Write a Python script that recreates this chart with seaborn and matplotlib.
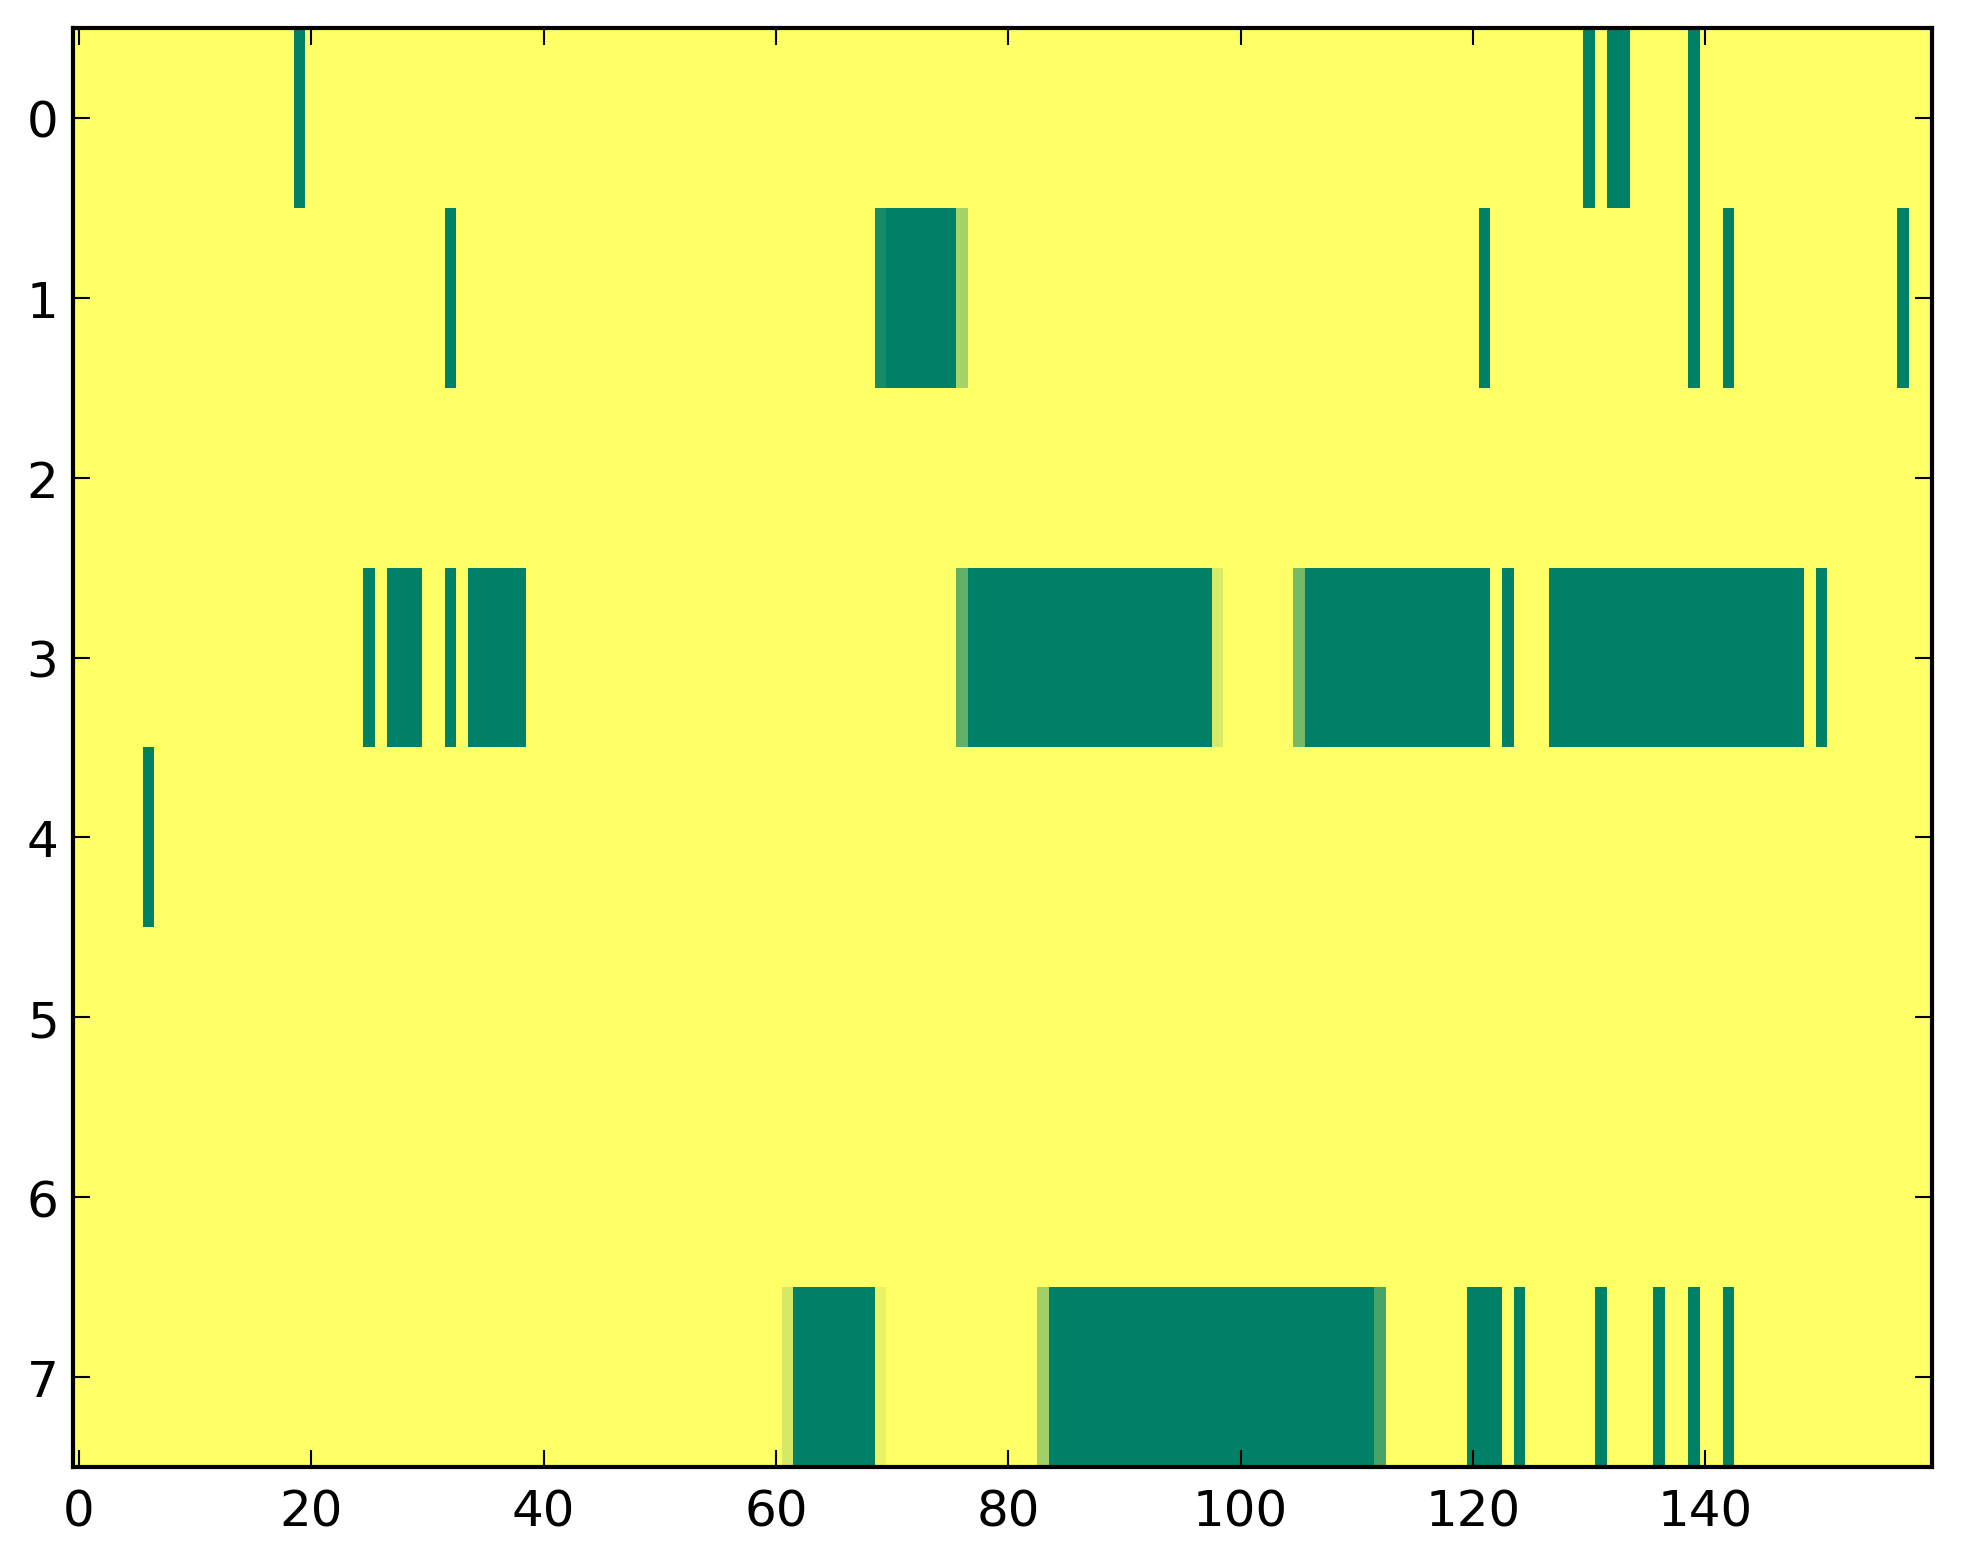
import numpy as np
import matplotlib
matplotlib.use("Agg")
import matplotlib.pyplot as plt
import seaborn as sns

n_rows = 8
n_cols = 160

# full-occupancy cells per row, as (first, last) column runs
row0_runs = [(19, 19), (130, 130), (132, 133), (139, 139)]
row1_runs = [(32, 32), (70, 75), (121, 121), (139, 139), (142, 142), (157, 157)]
row3_runs = [(25, 25), (27, 29), (32, 32), (34, 38), (77, 97), (106, 121),
             (123, 123), (127, 148), (150, 150)]
row4_runs = [(6, 6)]
row7_runs = [(62, 68), (84, 111), (120, 122), (124, 124), (131, 131),
             (136, 136), (139, 139), (142, 142)]

# partially filled cells: row -> {column: value}
partial_cells = {
    1: {69: 0.91, 76: 0.35},
    3: {76: 0.62, 98: 0.16, 105: 0.54},
    7: {61: 0.17, 69: 0.09, 83: 0.37, 112: 0.72},
}

row_runs = {0: row0_runs, 1: row1_runs, 3: row3_runs, 4: row4_runs, 7: row7_runs}

xtick_values = [0, 20, 40, 60, 80, 100, 120, 140]
ytick_values = list(range(n_rows))

# build the grid
grid = np.zeros((n_rows, n_cols))
for r, runs in row_runs.items():
    for a, b in runs:
        grid[r, a:b + 1] = 1.0
for r, cells in partial_cells.items():
    for c, v in cells.items():
        grid[r, c] = v

plt.rcParams["font.family"] = ["DejaVu Sans"]
plt.rcParams["font.size"] = 12

fig = plt.figure(figsize=(1963 / 300, 1564 / 300), dpi=300)
ax = fig.add_axes([0.0372, 0.0614, 0.9470, 0.9201])

sns.heatmap(grid, ax=ax, cmap="summer_r", vmin=0, vmax=1, cbar=False,
            xticklabels=False, yticklabels=False, linewidths=0,
            rasterized=True)

ax.set_xlim(0, n_cols)
ax.set_ylim(n_rows, 0)
ax.set_xticks([x + 0.5 for x in xtick_values])
ax.set_xticklabels([str(x) for x in xtick_values])
ax.set_yticks([y + 0.5 for y in ytick_values])
ax.set_yticklabels([str(y) for y in ytick_values], rotation=0)

for s in ax.spines.values():
    s.set_visible(True)
    s.set_linewidth(1.0)
    s.set_color("black")

ax.tick_params(axis="both", direction="in", length=4, width=0.5,
               top=True, right=True, labelsize=12, colors="black")
ax.tick_params(axis="x", pad=5)
ax.tick_params(axis="y", pad=3.5)

fig.savefig("out.png", dpi=300)
